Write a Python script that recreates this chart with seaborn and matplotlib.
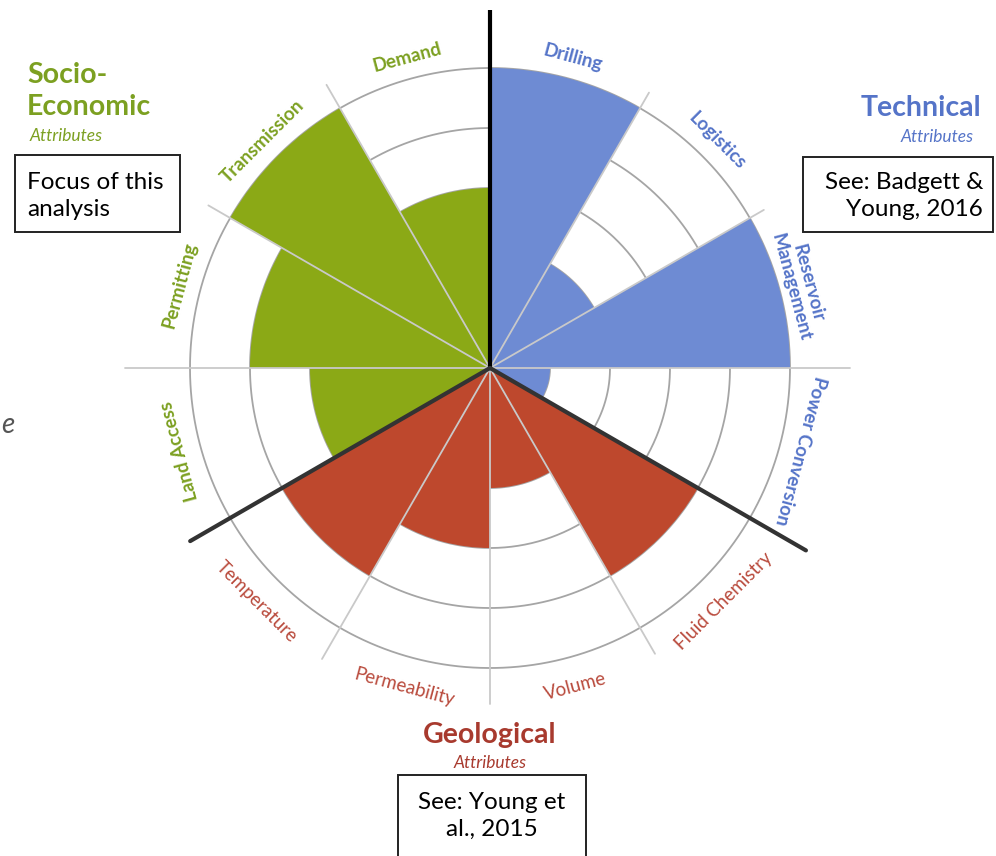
import numpy as np
import pandas as pd
import matplotlib
matplotlib.use('Agg')
import matplotlib.pyplot as plt
import matplotlib.patches as mpatches
import seaborn as sns

# attribute scores (0-5), clockwise starting at 12 o'clock
categories = ['Drilling', 'Logistics', 'Reservoir\nManagement', 'Power Conversion',
              'Fluid Chemistry', 'Volume', 'Permeability', 'Temperature',
              'Land Access', 'Permitting', 'Transmission', 'Demand']
scores = [5, 2, 5, 1, 4, 2, 3, 4, 3, 4, 5, 3]
groups = ['Technical'] * 4 + ['Geological'] * 4 + ['Socio-Economic'] * 4

bar_colors = {'Technical': '#6E8BD3', 'Geological': '#BE482D', 'Socio-Economic': '#8BA916'}
text_colors = {'Technical': '#5574C8', 'Geological': '#B94A3C', 'Socio-Economic': '#7CA021'}

sns.set_theme(style='white')
plt.rcParams['font.family'] = ['Lato', 'DejaVu Sans']

W, H = 996, 856
fig = plt.figure(figsize=(W / 100, H / 100), dpi=100)

def fx(x):
    return x / W

def fy(y):
    return 1 - y / H

# polar axes centred on (490, 368) px, 60 px per score unit
R = 6.2
cx, cy, s = 490, 368, 60
ax = fig.add_axes([fx(cx - R * s), fy(cy + R * s), 2 * R * s / W, 2 * R * s / H],
                  projection='polar')
ax.set_theta_zero_location('N')
ax.set_theta_direction(-1)

step = np.deg2rad(30)
theta = [step / 2 + i * step for i in range(len(categories))]
df = pd.DataFrame({'theta': theta, 'score': scores, 'group': groups})

sns.barplot(data=df, x='theta', y='score', hue='group', palette=bar_colors,
            native_scale=True, width=1, dodge=False, saturation=1,
            errorbar=None, legend=False, linewidth=0, ax=ax, zorder=2)

# rings
tt = np.linspace(0, 2 * np.pi, 500)
for r in range(1, 6):
    ax.plot(tt, np.full_like(tt, r), color='#a5a5a5', lw=1.3, zorder=1)

# spokes (light) and group dividers (dark)
spoke_len = [5.97, 5.3, 5.27, 6.0, 6.08, 5.5, 5.6, 5.6, 5.77, 6.08, 5.42, 5.45]
for i, L in enumerate(spoke_len):
    a = i * step
    if i == 0:
        ax.plot([a, a], [0, L], color='black', lw=3, zorder=4, solid_capstyle='butt')
    elif i in (4, 8):
        ax.plot([a, a], [0, L], color='#333333', lw=3, zorder=4, solid_capstyle='round')
    else:
        ax.plot([a, a], [0, L], color='#c9c9c9', lw=1.3, zorder=3)

# curved category labels
for name, a, g in zip(categories, theta, groups):
    phi = np.rad2deg(a)
    if g == 'Geological':
        rot = 180 - phi
        rr = 5.5
        weight = 'normal'
        size = 13.5
    else:
        rot = -phi
        rr = 5.35
        weight = 'bold'
        size = 13.5
    ax.text(a, rr, name, rotation=rot, rotation_mode='anchor', ha='center', va='center',
            color=text_colors[g], fontsize=size, fontweight=weight, linespacing=1.05)

ax.set_xlabel('')
ax.set_ylabel('')
ax.set_ylim(0, R)
ax.set_axis_off()

# group titles
fig.text(fx(27), fy(75), 'Socio-', color='#7CA021', fontsize=20.5, fontweight='bold', va='center')
fig.text(fx(27), fy(107), 'Economic', color='#7CA021', fontsize=20.5, fontweight='bold', va='center')
fig.text(fx(30), fy(136), 'Attributes', color='#7CA021', fontsize=12.5, style='italic', va='center')

fig.text(fx(981), fy(108), 'Technical', color='#5574C8', fontsize=20.5, fontweight='bold',
         ha='right', va='center')
fig.text(fx(974), fy(137), 'Attributes', color='#5574C8', fontsize=12.5, style='italic',
         ha='right', va='center')

fig.text(fx(490), fy(735), 'Geological', color='#A83A2E', fontsize=20.5, fontweight='bold',
         ha='center', va='center')
fig.text(fx(490), fy(763), 'Attributes', color='#A83A2E', fontsize=12.5, style='italic',
         ha='center', va='center')

# note boxes
for x0, y0, x1, y1 in [(15, 155, 180, 232), (803, 157, 993, 232), (398, 775, 586, 860)]:
    fig.patches.append(mpatches.Rectangle((fx(x0), fy(y1)), fx(x1 - x0), (y1 - y0) / H,
                                          transform=fig.transFigure, facecolor='white',
                                          edgecolor='#222222', lw=1.4))
fig.text(fx(27), fy(196), 'Focus of this\nanalysis', fontsize=17.5, color='black',
         va='center', ha='left', linespacing=1.3)
fig.text(fx(983), fy(196), 'See: Badgett &\nYoung, 2016', fontsize=17.5, color='black',
         va='center', ha='right', multialignment='right', linespacing=1.3)
fig.text(fx(492), fy(816), 'See: Young et\nal., 2015', fontsize=17.5, color='black',
         va='center', ha='center', linespacing=1.3)

# stray text fragment at the left edge
fig.text(fx(1), fy(425), 'e', fontsize=20, color='#555555', style='italic', va='center')

fig.savefig('out.png', dpi=100, facecolor='white')
